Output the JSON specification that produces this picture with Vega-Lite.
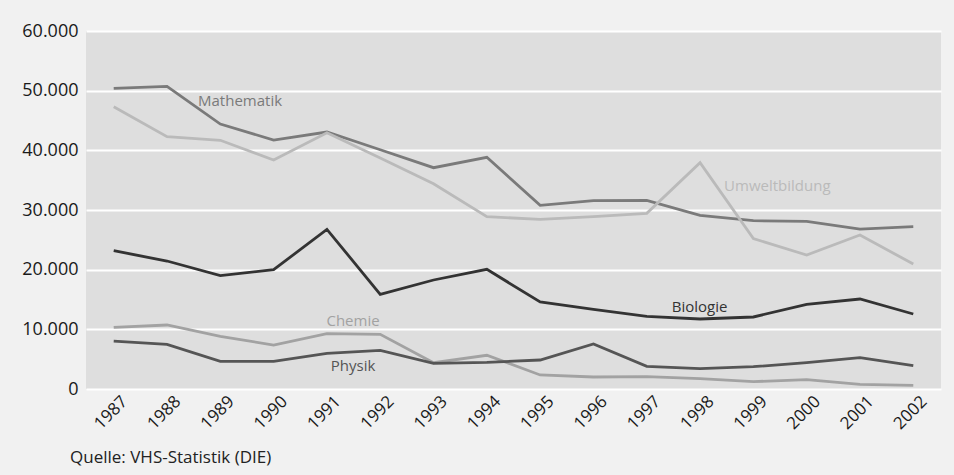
{
  "$schema": "https://vega.github.io/schema/vega-lite/v6.json",
  "background": "#f1f1f1",
  "autosize": {"type": "none"},
  "padding": {"left": 86, "top": 31, "right": 13, "bottom": 86},
  "width": 855,
  "height": 358,
  "title": {
    "text": "Quelle: VHS-Statistik (DIE)",
    "orient": "bottom",
    "anchor": "start",
    "frame": "group",
    "offset": 18,
    "dx": -16,
    "font": "Open Sans",
    "fontSize": 17,
    "fontWeight": "normal",
    "color": "#222222"
  },
  "config": {
    "view": {"fill": "#dedede", "stroke": null},
    "font": "Open Sans"
  },
  "datasets": {
    "series": [
      {"year": 1987, "fach": "Mathematik", "teilnehmer": 50400},
      {"year": 1988, "fach": "Mathematik", "teilnehmer": 50730},
      {"year": 1989, "fach": "Mathematik", "teilnehmer": 44410},
      {"year": 1990, "fach": "Mathematik", "teilnehmer": 41730},
      {"year": 1991, "fach": "Mathematik", "teilnehmer": 43070},
      {"year": 1992, "fach": "Mathematik", "teilnehmer": 40100},
      {"year": 1993, "fach": "Mathematik", "teilnehmer": 37090},
      {"year": 1994, "fach": "Mathematik", "teilnehmer": 38830},
      {"year": 1995, "fach": "Mathematik", "teilnehmer": 30790},
      {"year": 1996, "fach": "Mathematik", "teilnehmer": 31560},
      {"year": 1997, "fach": "Mathematik", "teilnehmer": 31620},
      {"year": 1998, "fach": "Mathematik", "teilnehmer": 29110},
      {"year": 1999, "fach": "Mathematik", "teilnehmer": 28210},
      {"year": 2000, "fach": "Mathematik", "teilnehmer": 28100},
      {"year": 2001, "fach": "Mathematik", "teilnehmer": 26810},
      {"year": 2002, "fach": "Mathematik", "teilnehmer": 27200},
      {"year": 1987, "fach": "Umweltbildung", "teilnehmer": 47310},
      {"year": 1988, "fach": "Umweltbildung", "teilnehmer": 42280},
      {"year": 1989, "fach": "Umweltbildung", "teilnehmer": 41680},
      {"year": 1990, "fach": "Umweltbildung", "teilnehmer": 38380},
      {"year": 1991, "fach": "Umweltbildung", "teilnehmer": 42950},
      {"year": 1992, "fach": "Umweltbildung", "teilnehmer": 38700},
      {"year": 1993, "fach": "Umweltbildung", "teilnehmer": 34410},
      {"year": 1994, "fach": "Umweltbildung", "teilnehmer": 28880},
      {"year": 1995, "fach": "Umweltbildung", "teilnehmer": 28430},
      {"year": 1996, "fach": "Umweltbildung", "teilnehmer": 28880},
      {"year": 1997, "fach": "Umweltbildung", "teilnehmer": 29440},
      {"year": 1998, "fach": "Umweltbildung", "teilnehmer": 37930},
      {"year": 1999, "fach": "Umweltbildung", "teilnehmer": 25200},
      {"year": 2000, "fach": "Umweltbildung", "teilnehmer": 22460},
      {"year": 2001, "fach": "Umweltbildung", "teilnehmer": 25800},
      {"year": 2002, "fach": "Umweltbildung", "teilnehmer": 20950},
      {"year": 1987, "fach": "Biologie", "teilnehmer": 23180},
      {"year": 1988, "fach": "Biologie", "teilnehmer": 21450},
      {"year": 1989, "fach": "Biologie", "teilnehmer": 18990},
      {"year": 1990, "fach": "Biologie", "teilnehmer": 19990},
      {"year": 1991, "fach": "Biologie", "teilnehmer": 26760},
      {"year": 1992, "fach": "Biologie", "teilnehmer": 15870},
      {"year": 1993, "fach": "Biologie", "teilnehmer": 18270},
      {"year": 1994, "fach": "Biologie", "teilnehmer": 20060},
      {"year": 1995, "fach": "Biologie", "teilnehmer": 14580},
      {"year": 1996, "fach": "Biologie", "teilnehmer": 13350},
      {"year": 1997, "fach": "Biologie", "teilnehmer": 12180},
      {"year": 1998, "fach": "Biologie", "teilnehmer": 11730},
      {"year": 1999, "fach": "Biologie", "teilnehmer": 12070},
      {"year": 2000, "fach": "Biologie", "teilnehmer": 14190},
      {"year": 2001, "fach": "Biologie", "teilnehmer": 15080},
      {"year": 2002, "fach": "Biologie", "teilnehmer": 12570},
      {"year": 1987, "fach": "Chemie", "teilnehmer": 10340},
      {"year": 1988, "fach": "Chemie", "teilnehmer": 10730},
      {"year": 1989, "fach": "Chemie", "teilnehmer": 8830},
      {"year": 1990, "fach": "Chemie", "teilnehmer": 7370},
      {"year": 1991, "fach": "Chemie", "teilnehmer": 9270},
      {"year": 1992, "fach": "Chemie", "teilnehmer": 9160},
      {"year": 1993, "fach": "Chemie", "teilnehmer": 4410},
      {"year": 1994, "fach": "Chemie", "teilnehmer": 5650},
      {"year": 1995, "fach": "Chemie", "teilnehmer": 2350},
      {"year": 1996, "fach": "Chemie", "teilnehmer": 2010},
      {"year": 1997, "fach": "Chemie", "teilnehmer": 2070},
      {"year": 1998, "fach": "Chemie", "teilnehmer": 1730},
      {"year": 1999, "fach": "Chemie", "teilnehmer": 1230},
      {"year": 2000, "fach": "Chemie", "teilnehmer": 1560},
      {"year": 2001, "fach": "Chemie", "teilnehmer": 780},
      {"year": 2002, "fach": "Chemie", "teilnehmer": 610},
      {"year": 1987, "fach": "Physik", "teilnehmer": 8040},
      {"year": 1988, "fach": "Physik", "teilnehmer": 7480},
      {"year": 1989, "fach": "Physik", "teilnehmer": 4640},
      {"year": 1990, "fach": "Physik", "teilnehmer": 4640},
      {"year": 1991, "fach": "Physik", "teilnehmer": 5980},
      {"year": 1992, "fach": "Physik", "teilnehmer": 6480},
      {"year": 1993, "fach": "Physik", "teilnehmer": 4300},
      {"year": 1994, "fach": "Physik", "teilnehmer": 4470},
      {"year": 1995, "fach": "Physik", "teilnehmer": 4860},
      {"year": 1996, "fach": "Physik", "teilnehmer": 7540},
      {"year": 1997, "fach": "Physik", "teilnehmer": 3800},
      {"year": 1998, "fach": "Physik", "teilnehmer": 3410},
      {"year": 1999, "fach": "Physik", "teilnehmer": 3740},
      {"year": 2000, "fach": "Physik", "teilnehmer": 4410},
      {"year": 2001, "fach": "Physik", "teilnehmer": 5250},
      {"year": 2002, "fach": "Physik", "teilnehmer": 3910}
    ],
    "labels": [
      {"year": 1989.37, "fach": "Mathematik", "teilnehmer": 48270},
      {"year": 1999.45, "fach": "Umweltbildung", "teilnehmer": 34020},
      {"year": 1997.99, "fach": "Biologie", "teilnehmer": 13790},
      {"year": 1991.49, "fach": "Chemie", "teilnehmer": 11450},
      {"year": 1991.49, "fach": "Physik", "teilnehmer": 3850}
    ]
  },
  "encoding": {
    "x": {
      "field": "year",
      "type": "quantitative",
      "title": null,
      "scale": {"domain": [1986.48, 2002.52], "nice": false, "zero": false},
      "axis": {
        "values": [1987, 1988, 1989, 1990, 1991, 1992, 1993, 1994, 1995, 1996, 1997, 1998, 1999, 2000, 2001, 2002],
        "format": "d",
        "labelAngle": -45,
        "labelFontSize": 17,
        "labelColor": "#1a1a1a",
        "labelPadding": 4,
        "labelOffset": 5,
        "grid": false,
        "domain": false,
        "ticks": false
      }
    },
    "y": {
      "field": "teilnehmer",
      "type": "quantitative",
      "title": null,
      "scale": {"domain": [0, 60000], "nice": false},
      "axis": {
        "values": [0, 10000, 20000, 30000, 40000, 50000, 60000],
        "labelExpr": "replace(format(datum.value, ','), ',', '.')",
        "labelFontSize": 18,
        "labelColor": "#1a1a1a",
        "labelPadding": 8,
        "grid": true,
        "gridColor": "#ffffff",
        "gridWidth": 2,
        "gridOpacity": 1,
        "domain": false,
        "ticks": false
      }
    },
    "color": {
      "field": "fach",
      "type": "nominal",
      "legend": null,
      "scale": {
        "domain": ["Mathematik", "Umweltbildung", "Biologie", "Chemie", "Physik"],
        "range": ["#7a7a7a", "#bababa", "#333333", "#a2a2a2", "#555555"]
      }
    }
  },
  "layer": [
    {
      "data": {"name": "series"},
      "mark": {"type": "line", "strokeWidth": 2.8},
      "encoding": {"detail": {"field": "fach"}}
    },
    {
      "data": {"name": "labels"},
      "mark": {"type": "text", "fontSize": 15, "align": "center", "baseline": "middle"},
      "encoding": {"text": {"field": "fach"}}
    }
  ]
}
